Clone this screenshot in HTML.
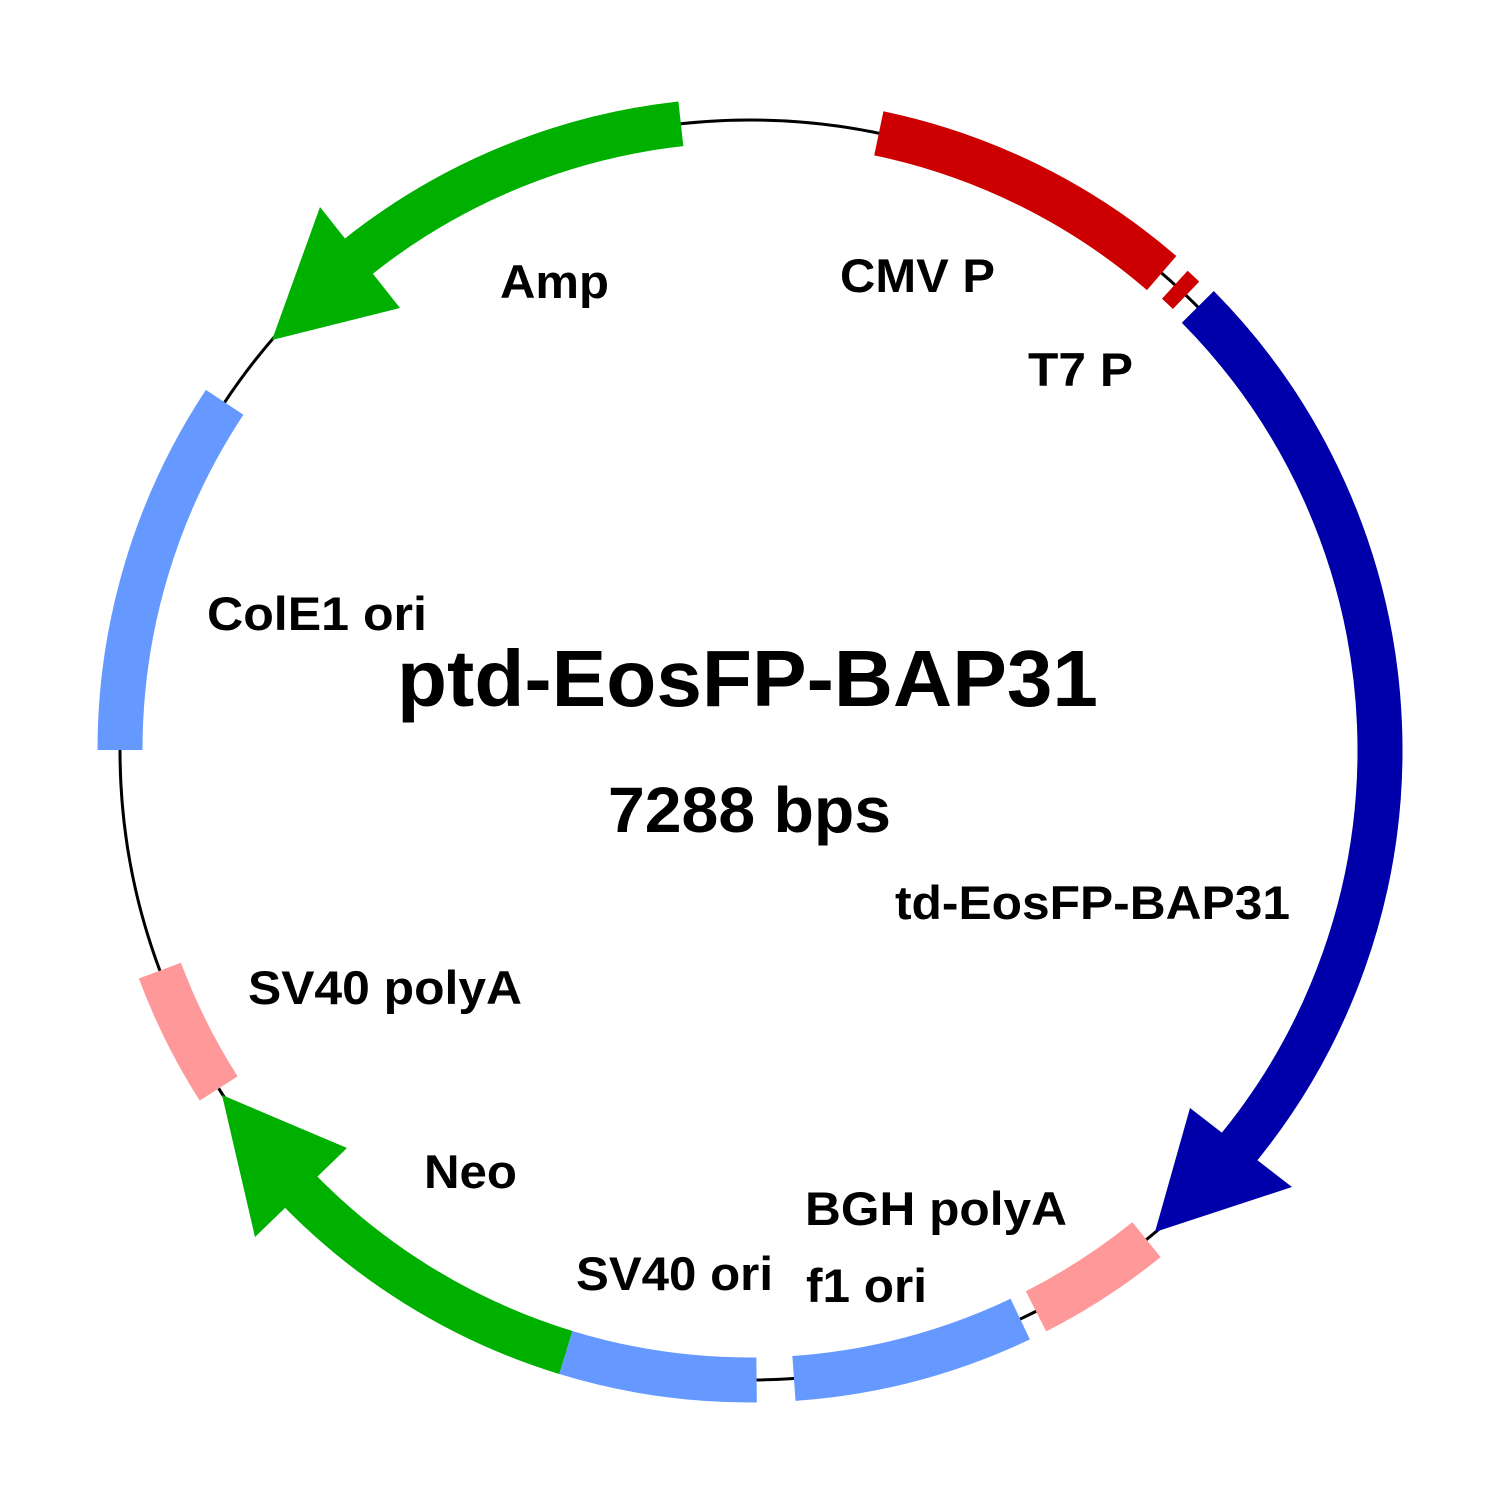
<!DOCTYPE html>
<html><head><style>
body{margin:0;background:#fff}
svg text{font-family:"Liberation Sans",Arial,sans-serif;font-weight:bold;fill:#000}
</style></head><body>
<svg id="s" width="1500" height="1500" viewBox="0 0 1500 1500" xmlns="http://www.w3.org/2000/svg">
<circle cx="750" cy="750" r="630" fill="none" stroke="#000" stroke-width="3"/>
<g id="arcs"></g>
<polygon points="1155,1232 1190,1108 1292,1187" fill="#0000aa"/>
<polygon points="222,1095 255,1237 347,1148" fill="#00b000"/>
<polygon points="272,340 320,207 400,308" fill="#00b000"/>
<g lengthAdjust="spacingAndGlyphs">
<text x="840" y="292" font-size="47" textLength="155" lengthAdjust="spacingAndGlyphs">CMV P</text>
<text x="1028" y="386" font-size="47" textLength="105" lengthAdjust="spacingAndGlyphs">T7 P</text>
<text x="500" y="298" font-size="47" textLength="109" lengthAdjust="spacingAndGlyphs">Amp</text>
<text x="207" y="630" font-size="47" textLength="220" lengthAdjust="spacingAndGlyphs">ColE1 ori</text>
<text x="397" y="706" font-size="80" textLength="701" lengthAdjust="spacingAndGlyphs">ptd-EosFP-BAP31</text>
<text x="608" y="832" font-size="64" textLength="283" lengthAdjust="spacingAndGlyphs">7288 bps</text>
<text x="895" y="919" font-size="47" textLength="395" lengthAdjust="spacingAndGlyphs">td-EosFP-BAP31</text>
<text x="248" y="1004" font-size="47" textLength="274" lengthAdjust="spacingAndGlyphs">SV40 polyA</text>
<text x="424" y="1188" font-size="47" textLength="93" lengthAdjust="spacingAndGlyphs">Neo</text>
<text x="805" y="1225" font-size="47" textLength="262" lengthAdjust="spacingAndGlyphs">BGH polyA</text>
<text x="576" y="1290" font-size="47" textLength="197" lengthAdjust="spacingAndGlyphs">SV40 ori</text>
<text x="806" y="1302" font-size="47" textLength="121" lengthAdjust="spacingAndGlyphs">f1 ori</text>
</g>
</svg>
<script>
var g=document.getElementById('arcs');
function pt(a,r){var t=a*Math.PI/180;return [750+r*Math.sin(t),750-r*Math.cos(t)];}
function arc(a1,a2,col,w,r){r=r||630;var p=pt(a1,r),q=pt(a2,r);var large=(a2-a1)>180?1:0;
var e=document.createElementNS('http://www.w3.org/2000/svg','path');
e.setAttribute('d','M'+p[0]+' '+p[1]+' A'+r+' '+r+' 0 '+large+' 1 '+q[0]+' '+q[1]);
e.setAttribute('fill','none');e.setAttribute('stroke',col);e.setAttribute('stroke-width',w);g.appendChild(e);}
arc(11.8,40.8,'#cc0000',45);
arc(42.4,43.8,'#cc0000',38);
arc(45.3,130,'#0000aa',45);
arc(141,153,'#ff9999',45);
arc(154.6,176,'#6699ff',45);
arc(179.4,197,'#6699ff',45);
arc(197,227,'#00b000',45);
arc(237.5,249.5,'#ff9999',45);
arc(270,303.5,'#6699ff',45);
arc(319,353.7,'#00b000',45);
</script>
</body></html>
